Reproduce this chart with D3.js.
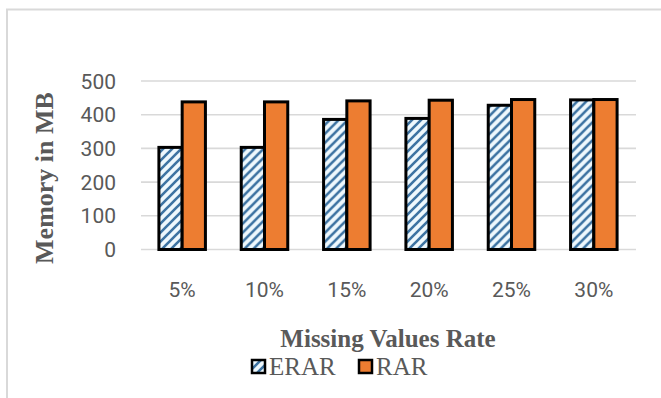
<!DOCTYPE html>
<html>
<head>
<meta charset="utf-8">
<script src="https://cdn.jsdelivr.net/npm/d3@7"></script>
<style>
  html, body { margin: 0; padding: 0; background: #fff; }
  svg { display: block; }
</style>
</head>
<body>
<svg id="chart" width="661" height="398"></svg>
<script>
// Memory use by missing-values rate
const categories = ["5%", "10%", "15%", "20%", "25%", "30%"];
const seriesNames = ["ERAR", "RAR"];
const erarValues = [303, 303, 386, 389, 428, 444];
const rarValues = [438, 438, 441, 443, 445, 445];
const yTicks = [0, 100, 200, 300, 400, 500];

const svg = d3.select("#chart");
const textColor = "#595959";
const gridColor = "#d9d9d9";

// outer frame (top and left edges visible)
svg.append("path")
  .attr("d", "M7,398 L7,9.5 L661,9.5")
  .attr("fill", "none")
  .attr("stroke", gridColor)
  .attr("stroke-width", 2);

// hatch pattern for ERAR
const defs = svg.append("defs");
const pat = defs.append("pattern")
  .attr("id", "hatch")
  .attr("patternUnits", "userSpaceOnUse")
  .attr("width", 9).attr("height", 9);
pat.append("rect").attr("width", 9).attr("height", 9).attr("fill", "#eef8fd");
pat.append("path")
  .attr("d", "M-2,2 L2,-2 M0,9 L9,0 M7,11 L11,7")
  .attr("stroke", "#3d73a2")
  .attr("stroke-width", 2.6);

const x = d3.scaleBand().domain(categories).range([141, 635]).padding(0);
const xs = d3.scaleBand().domain(seriesNames).range([0, x.bandwidth()])
  .paddingInner(0).paddingOuter(0.77);
const y = d3.scaleLinear().domain([0, 500]).range([249.5, 81]);

// gridlines
svg.append("g").selectAll("line").data(yTicks).join("line")
  .attr("x1", 141).attr("x2", 636)
  .attr("y1", d => y(d)).attr("y2", d => y(d))
  .attr("stroke", gridColor).attr("stroke-width", 1.6);

// y tick labels
svg.append("g").selectAll("text").data(yTicks).join("text")
  .attr("x", 116).attr("y", d => y(d) + 7.5)
  .attr("text-anchor", "end")
  .attr("font-family", "Roboto, sans-serif")
  .attr("font-size", 21)
  .attr("fill", textColor)
  .text(d => d);

// x tick labels
svg.append("g").selectAll("text").data(categories).join("text")
  .attr("x", d => x(d) + x.bandwidth() / 2).attr("y", 297)
  .attr("text-anchor", "middle")
  .attr("font-family", "Roboto, sans-serif")
  .attr("font-size", 21)
  .attr("fill", textColor)
  .text(d => d);

// bars
const rows = categories.map((c, i) => ({ cat: c, ERAR: erarValues[i], RAR: rarValues[i] }));
const fills = { ERAR: "url(#hatch)", RAR: "#ed7d31" };
const groups = svg.append("g").selectAll("g").data(rows).join("g")
  .attr("transform", d => `translate(${x(d.cat)},0)`);
groups.selectAll("rect")
  .data(d => seriesNames.map(s => ({ s, v: d[s] })))
  .join("rect")
  .attr("x", d => xs(d.s))
  .attr("width", xs.bandwidth())
  .attr("y", d => y(d.v))
  .attr("height", d => y(0) - y(d.v))
  .attr("fill", d => fills[d.s])
  .attr("stroke", "#000")
  .attr("stroke-width", 3);

// axis titles
svg.append("text")
  .attr("x", 388).attr("y", 347)
  .attr("text-anchor", "middle")
  .attr("font-family", "'Liberation Serif', 'Times New Roman', serif")
  .attr("font-weight", "bold")
  .attr("font-size", 25)
  .attr("fill", textColor)
  .text("Missing Values Rate");

svg.append("text")
  .attr("transform", "translate(53,178) rotate(-90)")
  .attr("text-anchor", "middle")
  .attr("font-family", "'Liberation Serif', 'Times New Roman', serif")
  .attr("font-weight", "bold")
  .attr("font-size", 26)
  .attr("fill", textColor)
  .text("Memory in MB");

// legend
const legendItems = [
  { name: "ERAR", fill: "url(#hatch)", x: 252 },
  { name: "RAR", fill: "#ed7d31", x: 359 }
];
const lg = svg.append("g").selectAll("g").data(legendItems).join("g")
  .attr("transform", d => `translate(${d.x},360)`);
lg.append("rect")
  .attr("width", 13).attr("height", 13)
  .attr("fill", d => d.fill)
  .attr("stroke", "#000").attr("stroke-width", 2.5);
lg.append("text")
  .attr("x", 17).attr("y", 15)
  .attr("font-family", "'Liberation Serif', 'Times New Roman', serif")
  .attr("font-size", 25)
  .attr("fill", textColor)
  .text(d => d.name);
</script>
</body>
</html>
